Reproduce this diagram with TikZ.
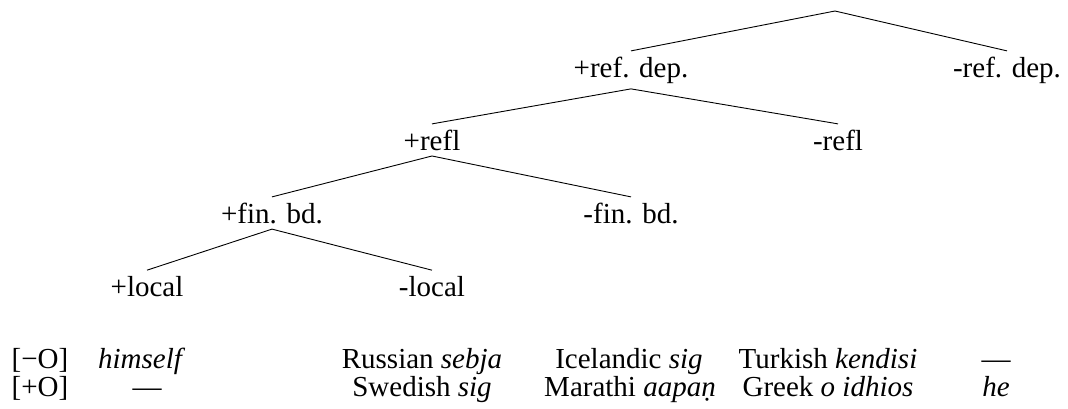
\documentclass[tikz,border=0pt]{standalone}
\usepackage{fontspec}
\setmainfont{Liberation Serif}
\begin{document}
\begin{tikzpicture}[x=1pt,y=-1pt,
  lbl/.style={anchor=base,inner sep=5.5pt,font=\fontsize{29}{34}\selectfont},
  cell/.style={anchor=base,inner sep=0pt,font=\fontsize{29}{34}\selectfont},
  edge/.style={line width=0.9pt,black}]
\useasboundingbox (0,0) rectangle (1068,408);
% tree
\coordinate (root) at (835,11);
\node[lbl] (n1) at (631,77) {+ref. dep.};
\node[lbl] (n2) at (1007,77) {-ref. dep.};
\node[lbl] (n11) at (432,150) {+refl};
\node[lbl] (n12) at (838,150) {-refl};
\node[lbl] (n111) at (272,223) {+fin. bd.};
\node[lbl] (n112) at (631,223) {-fin. bd.};
\node[lbl] (n1111) at (147,296) {+local};
\node[lbl] (n1112) at (432,296) {-local};
\draw[edge] (n1.north) -- (root) -- (n2.north);
\draw[edge] (n11.north) -- (n1.south) -- (n12.north);
\draw[edge] (n111.north) -- (n11.south) -- (n112.north);
\draw[edge] (n1111.north) -- (n111.south) -- (n1112.north);
% table
\node[cell] (a1) at (40,368) {[−O]};
\node[cell] (b1) at (140,368) {\itshape himself};
\node[cell] (c1) at (422,368) {Russian \textit{sebja}};
\node[cell] (d1) at (629,368) {Icelandic \textit{sig}};
\node[cell] (e1) at (828,368) {Turkish \textit{kendisi}};
\node[cell] (f1) at (996,368) {—};
\node[cell] (a2) at (40,396) {[+O]};
\node[cell] (b2) at (147,396) {—};
\node[cell] (c2) at (422,396) {Swedish \textit{sig}};
\node[cell] (d2) at (630,396) {Marathi \textit{aapaṇ}};
\node[cell] (e2) at (828,396) {Greek \textit{o idhios}};
\node[cell] (f2) at (996,396) {\itshape he};
\end{tikzpicture}
\end{document}
